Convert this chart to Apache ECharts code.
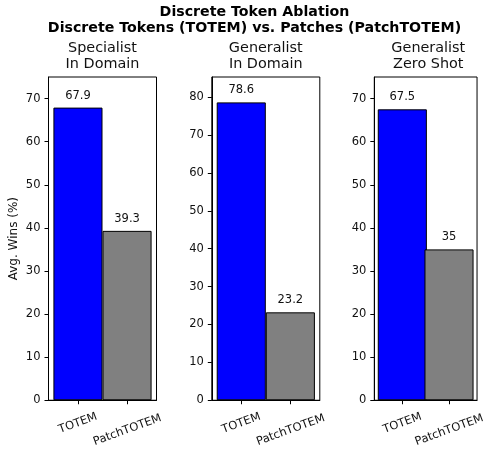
<!DOCTYPE html>
<html><head><meta charset="utf-8">
<script src="https://cdn.jsdelivr.net/npm/echarts@6/dist/echarts.min.js"></script>
<style>html,body{margin:0;padding:0;background:#fff}#c{width:488px;height:449px}</style>
</head><body><div id="c"></div>
<script>
// ---- data ----
const categories = ['TOTEM', 'PatchTOTEM'];
const categoryPositions = [0, 1];
const panelTitles = ['Specialist\nIn Domain', 'Generalist\nIn Domain', 'Generalist\nZero Shot'];
const totemValues = [67.9, 78.6, 67.5];
const patchValues = [39.3, 23.2, 35];
const yMax = [75, 85.3, 75];
const yTicks1 = [0, 10, 20, 30, 40, 50, 60, 70];
const yTicks2 = [0, 10, 20, 30, 40, 50, 60, 70, 80];
const yTicks3 = [0, 10, 20, 30, 40, 50, 60, 70];
const suptitleLines = 'Discrete Token Ablation\nDiscrete Tokens (TOTEM) vs. Patches (PatchTOTEM)';
const yAxisName = 'Avg. Wins (%)';

// ---- style / layout ----
const FONT = 'DejaVu Sans';
const TXT = '#111';
const barColors = ['#0000ff', '#808080'];
const gridLefts = [48.5, 211.8, 374.3];
const gridW = 108, gridTop = 77, gridH = 324;
const yTicksAll = [yTicks1, yTicks2, yTicks3];

const grids = [], xAxes = [], yAxes = [], series = [], graphics = [];
for (let i = 0; i < 3; i++) {
  grids.push({ left: gridLefts[i], top: gridTop, width: gridW, height: gridH,
    show: true, borderColor: '#000', borderWidth: 1, backgroundColor: 'transparent' });
  xAxes.push({
    type: 'value', gridIndex: i, min: -0.6, max: 1.6,
    axisLine: { show: true, onZero: false, lineStyle: { color: '#000', width: 1 } },
    splitLine: { show: false },
    axisTick: { show: true, customValues: categoryPositions, length: 4, lineStyle: { color: '#000' } },
    axisLabel: {
      customValues: categoryPositions, rotate: 20, align: 'center', verticalAlign: 'middle', margin: 23,
      fontFamily: FONT, fontSize: 11.5, color: TXT,
      formatter: v => { const k = Math.round(v); return k === 0 ? '{a|' + categories[0] + '}' : '{b|' + categories[1] + '}'; },
      rich: {
        a: { fontFamily: FONT, fontSize: 11.5, color: TXT },
        b: { fontFamily: FONT, fontSize: 11.5, color: TXT, padding: [13, 4, 0, 0] }
      }
    }
  });
  yAxes.push({
    type: 'value', gridIndex: i, min: 0, max: yMax[i],
    name: i === 0 ? yAxisName : '', nameLocation: 'middle', nameGap: 29,
    nameTextStyle: { fontFamily: FONT, fontSize: 12, color: TXT },
    axisLine: { show: true, onZero: false, lineStyle: { color: '#000', width: 1 } },
    splitLine: { show: false },
    axisTick: { show: true, customValues: yTicksAll[i], length: 4, lineStyle: { color: '#000' } },
    axisLabel: { customValues: yTicksAll[i], margin: 8, fontFamily: FONT, fontSize: 11.5, color: TXT }
  });
  const vals = [totemValues[i], patchValues[i]];
  series.push({
    type: 'bar', xAxisIndex: i, yAxisIndex: i,
    barWidth: gridW / 2.2,
    data: vals.map((v, k) => ({ value: [categoryPositions[k], v], itemStyle: { color: barColors[k] } })),
    itemStyle: { borderColor: '#000', borderWidth: 1 },
    label: { show: true, position: 'top', distance: 6, fontFamily: FONT, fontSize: 11.5, color: TXT,
      formatter: p => String(p.value[1]) }
  });
  graphics.push({ type: 'text', x: gridLefts[i] + gridW / 2, y: 56.5,
    style: { text: panelTitles[i], align: 'center', verticalAlign: 'middle', fontFamily: FONT,
      fontSize: 14.4, lineHeight: 16, fill: TXT } });
}
graphics.push({ type: 'text', x: 254.5, y: 20.5,
  style: { text: suptitleLines, align: 'center', verticalAlign: 'middle', fontFamily: FONT,
    fontSize: 14.2, fontWeight: 'bold', lineHeight: 16.5, fill: '#000' } });

const chart = echarts.init(document.getElementById('c'), null, { renderer: 'canvas' });
chart.setOption({
  animation: false,
  backgroundColor: '#fff',
  grid: grids, xAxis: xAxes, yAxis: yAxes, series: series, graphic: graphics
});
</script></body></html>
